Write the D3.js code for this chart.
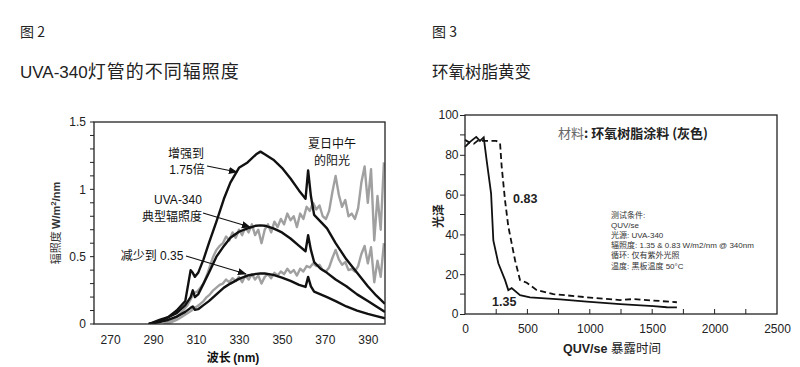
<!DOCTYPE html>
<html><head><meta charset="utf-8">
<script src="https://cdn.jsdelivr.net/npm/d3@7"></script>
<style>
html,body{margin:0;padding:0;background:#fff;}
svg{display:block;}
text{font-family:"Liberation Sans",Arial,"Noto Sans CJK SC",sans-serif;}
</style></head>
<body>
<script>
// ---------- Figure 2 data ----------
const xTicksL = [270, 290, 310, 330, 350, 370, 390];
const yTicksL = [0, 0.5, 1, 1.5];
const blackNm = [288, 293, 297, 301, 305, 307.5, 308.5, 309.5, 311, 313.5, 316, 319.5, 323, 326, 330, 334, 338, 340, 342, 346, 350, 354, 358, 361, 362.2, 363.5, 365, 368, 371, 375, 380, 385, 390, 394, 398];
const typicalVals = [0, 0.03, 0.05, 0.08, 0.14, 0.2, 0.25, 0.2, 0.22, 0.3, 0.38, 0.5, 0.58, 0.64, 0.685, 0.71, 0.73, 0.732, 0.73, 0.71, 0.68, 0.635, 0.58, 0.54, 0.66, 0.55, 0.46, 0.41, 0.38, 0.33, 0.28, 0.22, 0.17, 0.13, 0.09];
const enhancedVals = [0, 0.02, 0.05, 0.1, 0.17, 0.4, 0.38, 0.35, 0.38, 0.48, 0.6, 0.76, 0.93, 1.05, 1.16, 1.2, 1.26, 1.28, 1.26, 1.22, 1.16, 1.08, 0.99, 0.93, 1.14, 0.95, 0.81, 0.76, 0.71, 0.6, 0.48, 0.38, 0.28, 0.21, 0.15];
const reducedVals = [0, 0.015, 0.03, 0.055, 0.09, 0.12, 0.13, 0.105, 0.11, 0.14, 0.17, 0.22, 0.27, 0.3, 0.335, 0.36, 0.372, 0.375, 0.375, 0.365, 0.345, 0.32, 0.29, 0.275, 0.35, 0.28, 0.24, 0.22, 0.2, 0.17, 0.13, 0.1, 0.075, 0.058, 0.042];
const sunNm = [295, 298, 301, 304, 306, 308, 309, 310.5, 312, 313.5, 315, 316.5, 318, 319.5, 321, 322.5, 324, 325.5, 327, 328.5, 330, 331.5, 333, 334.5, 336, 337.5, 339, 340.5, 342, 343.5, 345, 346.5, 348, 349.5, 351, 352.5, 354, 355.5, 357, 358.5, 360, 361.5, 363, 364.5, 366, 367.5, 369, 370.5, 372, 373.5, 375, 376.5, 378, 379.5, 381, 382.5, 384, 385.5, 387, 388.5, 390, 391.5, 393, 394.5, 396, 397.5];
const sunHighVals = [0, 0.02, 0.05, 0.1, 0.14, 0.2, 0.23, 0.24, 0.27, 0.3, 0.36, 0.43, 0.5, 0.55, 0.58, 0.6, 0.65, 0.62, 0.68, 0.64, 0.7, 0.66, 0.72, 0.68, 0.74, 0.66, 0.7, 0.6, 0.7, 0.74, 0.68, 0.76, 0.72, 0.78, 0.74, 0.82, 0.77, 0.8, 0.72, 0.82, 0.78, 0.87, 0.84, 0.9, 0.85, 0.88, 0.8, 0.78, 0.84, 0.98, 1.1, 0.96, 0.87, 0.92, 0.8, 0.82, 0.78, 0.86, 1.05, 1.17, 0.9, 1.15, 0.62, 0.95, 0.7, 1.2];
const sunLowVals = [0, 0.01, 0.03, 0.06, 0.08, 0.1, 0.12, 0.13, 0.15, 0.17, 0.2, 0.22, 0.25, 0.27, 0.29, 0.3, 0.33, 0.31, 0.34, 0.32, 0.35, 0.31, 0.36, 0.33, 0.37, 0.33, 0.36, 0.3, 0.35, 0.37, 0.34, 0.38, 0.36, 0.39, 0.37, 0.41, 0.38, 0.4, 0.36, 0.41, 0.39, 0.43, 0.42, 0.45, 0.43, 0.44, 0.4, 0.39, 0.42, 0.49, 0.55, 0.48, 0.44, 0.46, 0.4, 0.41, 0.39, 0.43, 0.52, 0.58, 0.45, 0.57, 0.31, 0.47, 0.35, 0.6];

// ---------- Figure 3 data ----------
const xTicksR = [0, 500, 1000, 1500, 2000, 2500];
const yTicksR = [0, 20, 40, 60, 80, 100];
const hours135 = [0, 40, 90, 120, 150, 174, 209, 227, 267, 321, 347, 374, 441, 521, 762, 976, 1243, 1510, 1617, 1698];
const gloss135 = [84, 86.5, 89, 87, 88.8, 77, 60.6, 37, 25.5, 17, 12, 13, 9.5, 8.4, 7.4, 6.2, 5, 4, 3.4, 3.3];
const hours083 = [0, 40, 70, 100, 150, 250, 281, 294, 321, 347, 374, 401, 441, 495, 575, 708, 976, 1243, 1350, 1698];
const gloss083 = [87.5, 86, 85.5, 87, 87, 87, 85.8, 74, 57, 44, 35.5, 27, 17, 15.7, 12, 10, 8.4, 7, 7.5, 5.9];
const noteLines = ["测试条件:", "QUV/se", "光源: UVA-340", "辐照度: 1.35 & 0.83 W/m2/nm @ 340nm", "循环: 仅有紫外光照", "温度: 黑板温度  50°C"];

const svg = d3.select("body").append("svg").attr("width", 800).attr("height", 367);
svg.append("rect").attr("width", 800).attr("height", 367).attr("fill", "#fff");

const cjk = '"Noto Sans CJK SC", sans-serif';
// titles
svg.append("text").attr("x", 20).attr("y", 37).attr("font-size", 14).style("font-family", cjk).attr("fill", "#222").text("图 2");
const t2 = svg.append("text").attr("x", 20).attr("y", 78).attr("fill", "#222");
t2.append("tspan").attr("font-size", 17).style("font-family", '"Liberation Sans", Arial, sans-serif').text("UVA-340");
t2.append("tspan").attr("font-size", 18).attr("letter-spacing", 1).style("font-family", cjk).text("灯管的不同辐照度");
svg.append("text").attr("x", 432).attr("y", 37).attr("font-size", 14).style("font-family", cjk).attr("fill", "#222").text("图 3");
svg.append("text").attr("x", 432).attr("y", 78).attr("font-size", 16.5).style("font-family", cjk).attr("fill", "#222").text("环氧树脂黄变");

// ======== Left chart ========
const xL = d3.scaleLinear().domain([262.5, 398]).range([94, 385]);
const yL = d3.scaleLinear().domain([0, 1.5]).range([324, 122]);
const gL = svg.append("g");

gL.append("g").selectAll("line").data(d3.range(0, 16)).join("line")
  .attr("x1", 90).attr("x2", 94)
  .attr("y1", d => yL(d / 10)).attr("y2", d => yL(d / 10))
  .attr("stroke", "#222").attr("stroke-width", 1);

const axYL = gL.append("g").attr("transform", "translate(94,0)")
  .call(d3.axisLeft(yL).tickValues(yTicksL).tickSize(0).tickPadding(8).tickFormat(d => String(d)));
axYL.select(".domain").remove();
axYL.selectAll("text").attr("font-size", 12).attr("fill", "#222").style("font-family", '"Liberation Sans", Arial, sans-serif');

const axXL = gL.append("g").attr("transform", "translate(0,324)")
  .call(d3.axisBottom(xL).tickValues(xTicksL).tickSize(0).tickPadding(11.5).tickFormat(d3.format("d")));
axXL.select(".domain").remove();
axXL.selectAll("text").attr("font-size", 12).attr("fill", "#222").style("font-family", '"Liberation Sans", Arial, sans-serif');

svg.append("clipPath").attr("id", "clipL").append("rect")
  .attr("x", 94).attr("y", 122).attr("width", 291).attr("height", 202);

const lineL = d3.line().x(d => xL(d[0])).y(d => yL(d[1]));
const plotL = gL.append("g").attr("clip-path", "url(#clipL)");
[sunHighVals, sunLowVals].forEach(vals => {
  plotL.append("path").attr("d", lineL(sunNm.map((n, i) => [n, vals[i]])))
    .attr("fill", "none").attr("stroke", "#a0a0a0").attr("stroke-width", 2.4).attr("stroke-linejoin", "round");
});
[enhancedVals, typicalVals, reducedVals].forEach(vals => {
  plotL.append("path").attr("d", lineL(blackNm.map((n, i) => [n, vals[i]])))
    .attr("fill", "none").attr("stroke", "#111").attr("stroke-width", 2.4).attr("stroke-linejoin", "round");
});
gL.append("rect").attr("x", 94).attr("y", 122).attr("width", 291).attr("height", 202)
  .attr("fill", "none").attr("stroke", "#222").attr("stroke-width", 1.3);

svg.append("defs").append("marker").attr("id", "arr").attr("viewBox", "0 0 10 10")
  .attr("refX", 9).attr("refY", 5).attr("markerWidth", 9).attr("markerHeight", 9).attr("markerUnits", "userSpaceOnUse")
  .attr("orient", "auto").append("path").attr("d", "M0,1 L10,5 L0,9 Z").attr("fill", "#111");

function arrow(x1, y1, x2, y2) {
  gL.append("line").attr("x1", x1).attr("y1", y1).attr("x2", x2).attr("y2", y2)
    .attr("stroke", "#111").attr("stroke-width", 1.2).attr("marker-end", "url(#arr)");
}
function label(x, y, t, anchor) {
  gL.append("text").attr("x", x).attr("y", y).attr("font-size", 12).attr("text-anchor", anchor || "middle")
    .style("font-family", '"Liberation Sans", "Noto Sans CJK SC", sans-serif').attr("fill", "#111").text(t);
}
label(186, 158, "增强到");
label(187, 174, "1.75倍");
arrow(207, 166, 237, 172);
label(178, 204, "UVA-340");
label(172, 221, "典型辐照度");
arrow(203, 213, 250, 227);
label(152, 260, "减少到 0.35");
arrow(186, 256, 246, 274);
label(332, 148, "夏日中午");
label(332, 165, "的阳光");

const yLab = svg.append("text").attr("transform", "translate(60,223) rotate(-90)").attr("text-anchor", "middle")
  .attr("font-size", 11).attr("fill", "#333");
yLab.append("tspan").style("font-family", cjk).text("辐照度 ");
yLab.append("tspan").attr("font-weight", "bold").text("W/m");
yLab.append("tspan").attr("font-weight", "bold").attr("font-size", 8).attr("dy", -4).text("2");
yLab.append("tspan").attr("font-weight", "bold").attr("dy", 4).text("/nm");

const xLab = svg.append("text").attr("x", 233).attr("y", 362).attr("text-anchor", "middle").attr("font-size", 12).attr("fill", "#111");
xLab.append("tspan").style("font-family", cjk).attr("font-weight", "bold").text("波长 ");
xLab.append("tspan").attr("font-weight", "bold").text("(nm)");

// ======== Right chart ========
const xR = d3.scaleLinear().domain([0, 2500]).range([465, 777]);
const yR = d3.scaleLinear().domain([0, 100]).range([314, 115]);
const gR = svg.append("g");

gR.append("g").selectAll("line").data(d3.range(10, 100, 20)).join("line")
  .attr("x1", 460).attr("x2", 465).attr("y1", d => yR(d)).attr("y2", d => yR(d))
  .attr("stroke", "#222");
gR.append("g").selectAll("line").data(d3.range(250, 2500, 250)).join("line")
  .attr("x1", d => xR(d)).attr("x2", d => xR(d)).attr("y1", 314).attr("y2", 309)
  .attr("stroke", "#222");

const axYR = gR.append("g").attr("transform", "translate(465,0)")
  .call(d3.axisLeft(yR).tickValues(yTicksR).tickSize(5).tickPadding(1.5).tickFormat(d3.format("d")));
axYR.select(".domain").remove();
axYR.selectAll("line").attr("stroke", "#222");
axYR.selectAll("text").attr("font-size", 12).attr("fill", "#222").style("font-family", '"Liberation Sans", Arial, sans-serif');

const axXR = gR.append("g").attr("transform", "translate(0,314)")
  .call(d3.axisBottom(xR).tickValues(xTicksR).tickSize(0).tickPadding(10).tickFormat(d3.format("d")));
axXR.select(".domain").remove();
axXR.selectAll("text").attr("font-size", 12).attr("fill", "#222").style("font-family", '"Liberation Sans", Arial, sans-serif');

const lineR = d3.line().x(d => xR(d[0])).y(d => yR(d[1]));
gR.append("path").attr("d", lineR(hours083.map((h, i) => [h, gloss083[i]])))
  .attr("fill", "none").attr("stroke", "#111").attr("stroke-width", 1.8).attr("stroke-dasharray", "6,3.5");
gR.append("path").attr("d", lineR(hours135.map((h, i) => [h, gloss135[i]])))
  .attr("fill", "none").attr("stroke", "#111").attr("stroke-width", 1.8);

gR.append("rect").attr("x", 465).attr("y", 115).attr("width", 312).attr("height", 199)
  .attr("fill", "none").attr("stroke", "#222").attr("stroke-width", 1.3);

const mat = gR.append("text").attr("x", 558).attr("y", 138).attr("font-size", 13).style("font-family", cjk);
mat.append("tspan").attr("fill", "#666").text("材料");
mat.append("tspan").attr("fill", "#222").attr("font-weight", "bold").text(": 环氧树脂涂料 (灰色)");

gR.append("text").attr("x", 513).attr("y", 203).attr("font-size", 12.5).attr("font-weight", "bold").attr("fill", "#222").text("0.83");
gR.append("text").attr("x", 492).attr("y", 306).attr("font-size", 12.5).attr("font-weight", "bold").attr("fill", "#222").text("1.35");

gR.append("g").selectAll("text").data(noteLines).join("text")
  .attr("x", 611).attr("y", (d, i) => 218 + i * 10.1)
  .attr("font-size", 8).attr("fill", "#333")
  .style("font-family", '"Liberation Sans", "Noto Sans CJK SC", sans-serif')
  .text(d => d);

svg.append("text").attr("transform", "translate(443,216) rotate(-90)").attr("text-anchor", "middle")
  .attr("font-size", 12).attr("font-weight", "bold").style("font-family", cjk).attr("fill", "#222").text("光泽");

const xLabR = svg.append("text").attr("x", 612).attr("y", 353).attr("text-anchor", "middle").attr("font-size", 12.5).attr("fill", "#222");
xLabR.append("tspan").attr("font-weight", "bold").text("QUV/se ");
xLabR.append("tspan").style("font-family", cjk).text("暴露时间");
</script>
</body></html>
